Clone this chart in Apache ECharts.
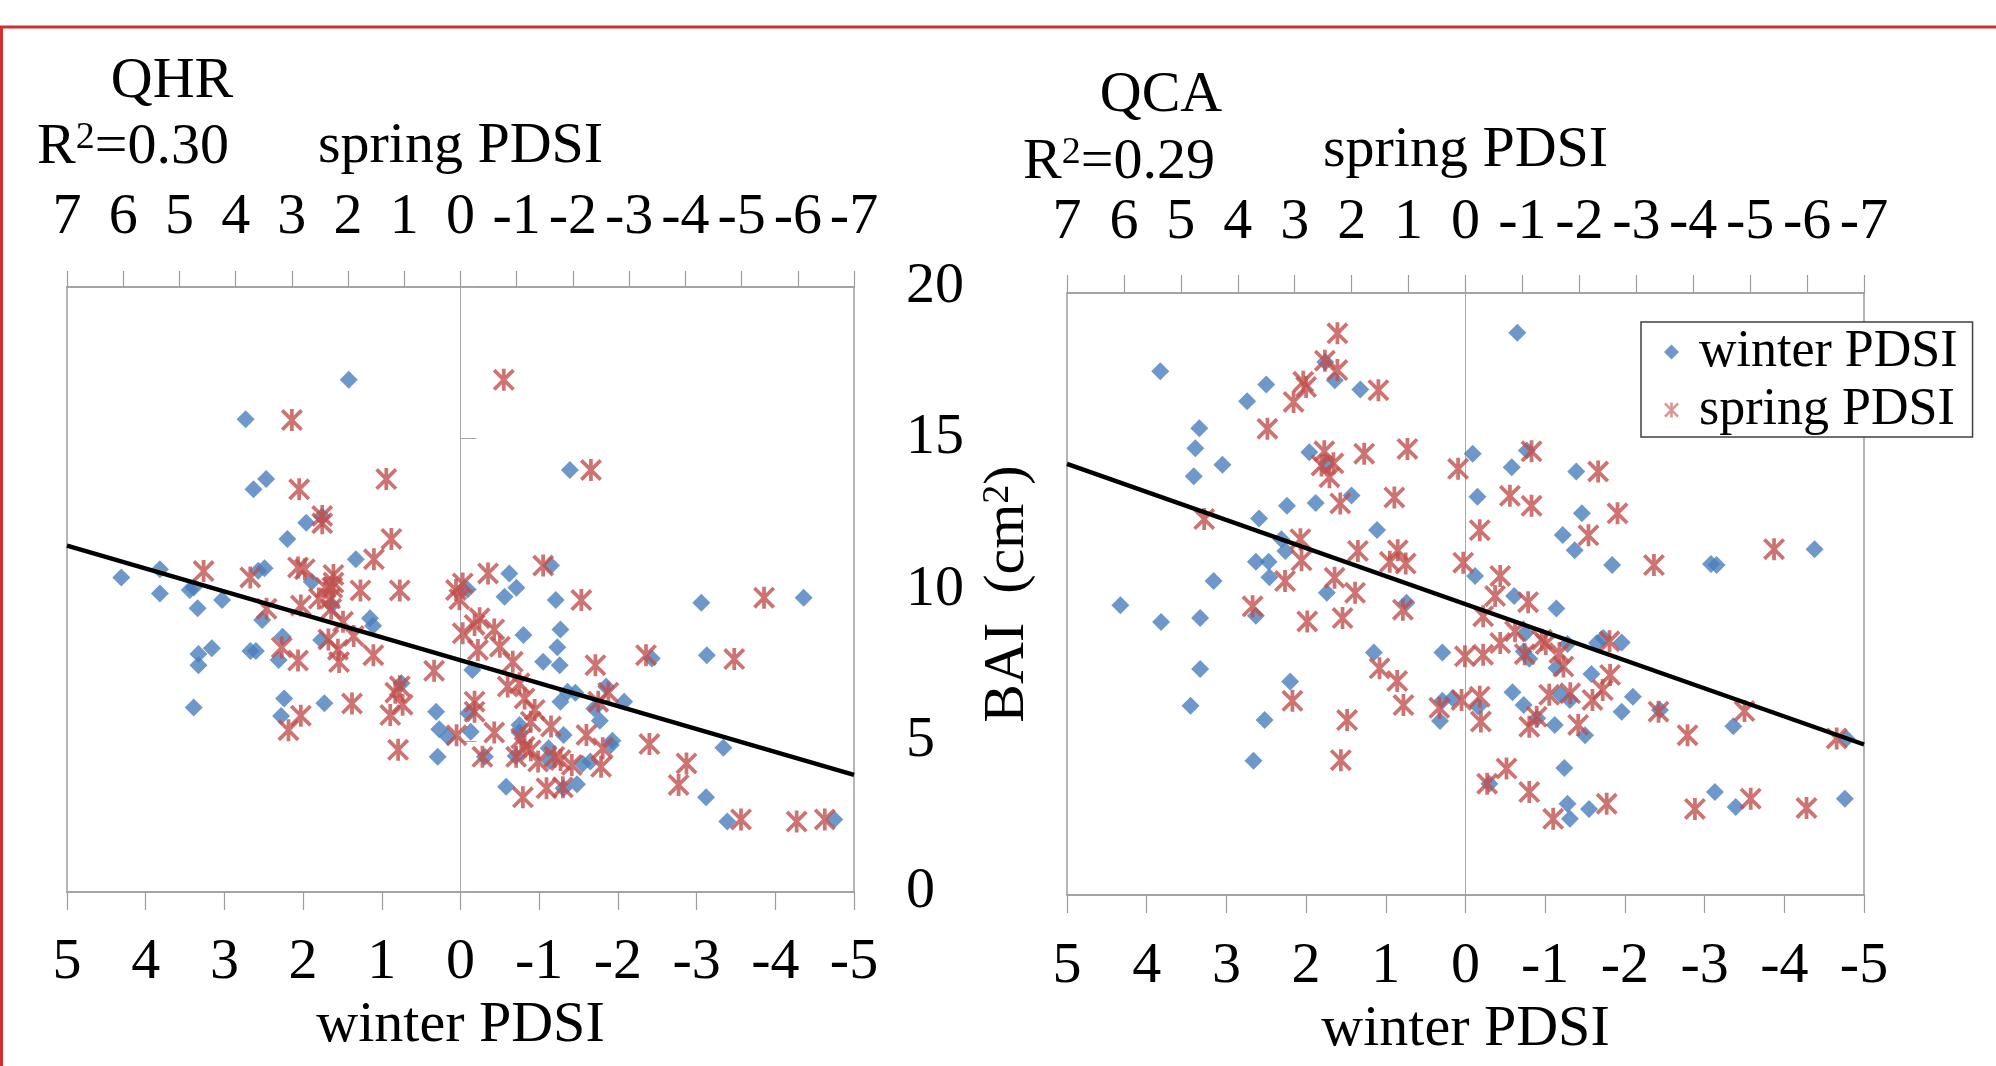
<!DOCTYPE html>
<html><head><meta charset="utf-8">
<script src="https://cdn.jsdelivr.net/npm/echarts@6/dist/echarts.min.js"></script>
<style>html,body{margin:0;padding:0;background:#fff}#c{width:1996px;height:1066px}</style>
</head><body><div id="c"></div>
<script>
// ---------- DATA ----------
const winterRange = [-5, 5];
const springRange = [-7, 7];
const baiRange = [0, 20];
const baiInterval = 5;

// QHR panel
const qhrWinterPDSI = [1.42,2.73,2.47,2.63,1.96,1.76,2.20,1.33,3.82,4.31,3.82,3.44,3.39,3.34,3.03,2.57,2.49,1.89,2.52,1.64,1.15,1.11,2.26,1.77,3.33,3.33,3.16,2.67,2.60,2.31,3.39,2.24,2.28,1.73,0.75,0.31,0.27,0.16,0.29,
 -1.39,-0.62,-0.71,-0.56,-1.15,-0.09,-1.21,-0.80,-1.27,-1.23,-1.05,-1.26,-0.15,-3.06,-4.36,-3.13,-2.43,-1.36,-1.46,-1.27,-1.85,-2.08,-1.70,-1.77,-0.10,-0.13,-0.75,-0.75,-1.31,-1.93,-1.91,-1.12,-1.13,-0.31,-0.70,-1.55,-1.65,-0.58,-1.48,-1.31,-3.34,-3.12,-3.39,-4.75];
const qhrWinterBAI = [16.93,15.63,13.65,13.31,12.21,12.41,11.67,11.00,10.67,10.40,9.87,9.98,10.07,9.38,9.65,10.62,10.70,10.26,8.99,9.49,9.05,8.80,8.44,8.33,7.87,7.50,8.06,7.97,7.97,7.67,6.10,6.40,5.82,6.24,6.90,5.96,5.38,5.13,4.47,
 13.95,10.53,10.06,9.76,10.79,10.00,9.65,8.50,8.68,8.09,7.61,7.50,7.34,9.56,9.73,7.83,7.72,6.62,6.59,6.29,6.79,6.29,6.07,5.66,5.91,5.30,5.52,5.28,5.19,5.00,4.86,4.75,4.34,4.47,4.50,4.24,4.31,3.48,3.56,3.43,4.77,3.13,2.33,2.40];
const qhrSpringPDSI = [3.00,2.87,1.32,2.46,2.46,1.23,1.54,4.57,3.74,2.89,2.77,2.26,2.26,2.40,2.28,1.78,1.08,2.52,2.32,2.84,3.45,2.30,2.09,1.90,3.18,2.35,2.89,2.16,1.55,2.18,0.47,1.08,1.16,1.03,1.25,1.93,2.84,3.06,1.11,0.07,0.08,0.02,-0.04,-0.04,
 -0.77,-2.32,-1.47,-0.49,-2.15,-5.40,-0.34,-0.25,-0.60,-0.31,-0.70,-0.93,-2.40,-3.30,-4.87,-0.84,-1.05,-1.14,-1.32,-0.25,-0.25,-2.45,-2.63,-0.60,-1.25,-1.61,-2.24,-1.08,-1.14,-0.39,-0.99,-1.25,-1.38,-1.67,-1.78,-1.98,-2.50,-2.53,-3.36,-4.02,-3.88,-1.11,-1.53,-1.82,-4.99,-5.98,-6.48];
const qhrSpringBAI = [15.60,13.31,13.65,12.43,12.19,11.67,11.00,10.61,10.40,10.73,10.67,10.48,10.23,10.06,10.06,9.97,9.97,9.70,9.70,9.47,9.36,9.36,8.93,8.46,8.08,8.35,7.65,7.60,7.83,8.01,7.31,6.80,6.59,6.19,5.85,6.23,5.83,5.35,4.70,5.18,9.98,9.68,10.20,8.55,
 16.93,13.95,10.79,10.53,9.65,9.73,9.05,8.83,8.68,8.00,8.11,7.61,7.50,7.83,7.70,6.79,6.90,6.40,6.02,6.29,5.96,6.29,6.59,5.27,5.63,5.47,5.19,5.08,4.80,4.47,4.47,4.69,4.31,4.47,4.36,4.20,4.14,4.75,4.89,4.25,3.54,3.13,3.43,3.46,2.40,2.33,2.40];

// QCA panel
const qcaWinterPDSI = [3.83,2.50,2.74,1.76,1.64,1.32,3.34,3.39,3.05,3.41,1.96,1.74,1.43,2.24,1.88,2.59,1.11,2.31,2.26,2.63,2.47,2.46,3.16,1.74,4.33,3.82,3.33,2.63,0.74,3.33,2.20,3.45,2.52,2.66,1.15,0.29,0.29,0.16,0.32,
 -0.65,-0.09,-0.58,-0.77,-1.39,-0.15,-1.46,-1.22,-1.37,-1.84,-3.08,-3.15,-4.38,-0.12,-0.61,-1.14,-0.75,-0.73,-0.80,-1.28,-1.65,-1.73,-1.96,-1.14,-1.58,-0.59,-0.73,-0.16,-1.19,-1.31,-2.10,-1.96,-2.44,-0.90,-1.12,-1.50,-3.36,-4.78,-1.24,-0.30,-1.28,-1.31,-1.55,-3.13,-3.39,-4.76];
const qcaWinterBAI = [17.40,16.96,16.40,17.71,17.10,16.79,15.51,14.84,14.29,13.91,14.71,14.32,13.27,12.93,13.02,12.51,12.13,11.82,11.43,11.07,11.07,10.56,10.43,10.04,9.63,9.07,9.20,9.28,9.71,7.51,7.09,6.29,5.81,4.46,8.06,8.06,6.45,6.54,5.78,
 18.68,14.66,14.21,14.77,14.07,13.23,12.68,11.96,11.45,10.96,11.00,10.96,11.49,10.60,9.93,9.52,8.70,8.09,7.85,8.34,8.37,8.54,8.39,7.54,7.34,6.74,6.31,6.26,6.67,6.48,6.59,6.09,6.15,5.87,5.65,5.31,5.61,5.20,4.22,3.70,3.03,2.53,2.86,3.42,2.92,3.20];
const qcaSpringPDSI = [2.25,2.47,2.25,2.85,2.80,3.02,1.53,3.48,2.48,1.78,1.02,2.53,2.32,2.39,0.13,2.20,1.25,4.59,2.90,2.88,1.89,1.19,1.33,1.05,3.17,2.30,1.94,0.04,3.74,1.10,2.78,2.16,1.51,1.20,1.09,0.46,0.07,3.04,2.08,2.19,0.01,
 -1.16,-2.33,-0.78,-1.16,-2.67,-0.25,-2.16,-5.42,-3.31,-0.61,-0.52,-1.10,-0.31,-0.87,-0.61,-0.31,-1.04,-1.34,-1.41,-1.65,-1.72,-2.53,-2.54,-2.41,-0.25,-0.27,-1.12,-1.25,-1.47,-1.84,-2.23,-1.98,-3.39,-3.90,-4.90,-6.52,-0.72,-0.38,-1.12,-1.54,-2.48,-4.03,-5.01,-5.99];
const qcaSpringBAI = [18.66,17.75,17.44,17.05,16.88,16.38,16.77,15.49,14.74,14.66,14.82,14.27,14.34,13.88,14.16,13.01,13.21,12.49,11.82,11.12,11.43,11.45,11.07,11.01,10.43,10.54,10.04,11.04,9.59,9.48,9.09,9.20,7.53,7.11,6.31,6.22,6.48,6.45,5.81,4.48,7.93,
 14.74,14.07,13.26,12.93,12.68,12.12,11.95,11.49,10.96,10.60,9.93,9.73,9.26,8.76,8.37,7.98,8.00,8.48,8.34,8.04,7.59,8.43,7.31,6.81,6.59,5.76,5.59,5.92,6.65,6.70,6.48,5.65,6.09,5.31,6.11,5.20,4.20,3.70,3.42,2.53,3.03,2.86,3.20,2.89];

// trend lines (end points on the winter axis)
const trendWinterPDSI = [5, -5];
const qhrTrendBAI = [11.45, 3.87];
const qcaTrendBAI = [14.32, 5.00];

// ---------- CHART ----------
const FONT = 'Liberation Serif';
const BLUE = '#4a7ebb', RED = '#c0504d', AXIS = '#9d9d9d';
const STAR = 'path://M0,2.4L2.4,0L20,17.6L17.6,20ZM17.6,0L20,2.4L2.4,20L0,17.6ZM8.3,0L11.7,0L11.7,20L8.3,20Z';
const zip = (xs, ys) => xs.map((x, i) => [x, ys[i]]);
const txt = {fontSize: 58, fontFamily: FONT, color: '#000', lineHeight: 58};
const supRich = {sup: {fontSize: 38, fontFamily: FONT, color: '#000', lineHeight: 38, verticalAlign: 'top'},
                 n: {fontSize: 58, fontFamily: FONT, color: '#000', lineHeight: 58}};

function xAx(grid, pos, range, margin, tickLen, name, nameGap) {
  return {
    gridIndex: grid, type: 'value', position: pos, min: range[0], max: range[1], interval: 1, inverse: true,
    axisLine: {show: true, onZero: false, lineStyle: {color: AXIS, width: 1.5}},
    axisTick: {show: true, length: tickLen, lineStyle: {color: AXIS, width: 1.2}},
    axisLabel: Object.assign({margin: margin, hideOverlap: false}, txt),
    splitLine: {show: false},
    name: name, nameLocation: 'middle', nameGap: nameGap, nameTextStyle: txt
  };
}

const chart = echarts.init(document.getElementById('c'), null, {renderer: 'canvas'});
chart.setOption({
  animation: false,
  backgroundColor: '#fff',
  textStyle: {fontFamily: FONT},
  grid: [
    {left: 67, top: 287, width: 787, height: 605, show: true, borderColor: AXIS, borderWidth: 1.5, backgroundColor: 'rgba(0,0,0,0)', outerBoundsMode: 'none', containLabel: false},
    {left: 1067, top: 293, width: 797, height: 602, show: true, borderColor: AXIS, borderWidth: 1.5, backgroundColor: 'rgba(0,0,0,0)', outerBoundsMode: 'none', containLabel: false}
  ],
  xAxis: [
    xAx(0, 'bottom', winterRange, 42, 18, 'winter PDSI', 97),
    xAx(0, 'top', springRange, 40, 16, 'spring PDSI', 111),
    xAx(1, 'bottom', winterRange, 43, 18, 'winter PDSI', 103),
    xAx(1, 'top', springRange, 41, 18, 'spring PDSI', 113)
  ],
  yAxis: [
    {gridIndex: 0, type: 'value', min: baiRange[0], max: baiRange[1], interval: baiInterval, position: 'left',
     axisLine: {show: true, onZero: true, onZeroAxisIndex: 0, lineStyle: {color: '#a8a8a8', width: 1}},
     axisTick: {show: true, inside: true, length: 16, lineStyle: {color: '#a8a8a8', width: 1}},
     axisLabel: {show: false}, splitLine: {show: false}},
    {gridIndex: 0, type: 'value', min: baiRange[0], max: baiRange[1], interval: baiInterval, position: 'right',
     axisLine: {show: false, onZero: false}, axisTick: {show: false},
     axisLabel: Object.assign({margin: 52}, txt), splitLine: {show: false}},
    {gridIndex: 1, type: 'value', min: baiRange[0], max: baiRange[1], interval: baiInterval, position: 'left',
     axisLine: {show: true, onZero: true, onZeroAxisIndex: 2, lineStyle: {color: '#a8a8a8', width: 1}},
     axisTick: {show: false}, axisLabel: {show: false}, splitLine: {show: false}},
    {gridIndex: 1, type: 'value', min: baiRange[0], max: baiRange[1], interval: baiInterval, position: 'left',
     axisLine: {show: false, onZero: false}, axisTick: {show: false}, axisLabel: {show: false}, splitLine: {show: false},
     name: '{n|BAI  (cm}{sup|2}{n|)}', nameLocation: 'middle', nameRotate: 90, nameGap: 30,
     nameTextStyle: Object.assign({rich: supRich}, txt)}
  ],
  legend: {
    data: [{name: 'winter PDSI'}, {name: 'spring PDSI', itemStyle: {opacity: 0.6}}],
    orient: 'vertical', left: 1641, top: 322, padding: [3, 15, 0, 23], itemGap: 4,
    itemWidth: 15, itemHeight: 15, backgroundColor: '#fff', borderColor: '#404040', borderWidth: 1.5,
    textStyle: {fontSize: 52, fontFamily: FONT, color: '#000', lineHeight: 54, padding: [0, 0, 0, 15]}, selectedMode: false
  },
  series: [
    {type: 'scatter', name: 'winter PDSI', xAxisIndex: 0, yAxisIndex: 0, data: zip(qhrWinterPDSI, qhrWinterBAI),
     symbol: 'diamond', symbolSize: 18, itemStyle: {color: BLUE}, z: 2},
    {type: 'scatter', name: 'spring PDSI', xAxisIndex: 1, yAxisIndex: 0, data: zip(qhrSpringPDSI, qhrSpringBAI),
     symbol: STAR, symbolSize: 22, itemStyle: {color: RED}, z: 3},
    {type: 'line', name: 'QHR trend', xAxisIndex: 0, yAxisIndex: 0, data: zip(trendWinterPDSI, qhrTrendBAI),
     symbol: 'none', showSymbol: false, lineStyle: {color: '#000', width: 4.5}, z: 4, silent: true},
    {type: 'scatter', name: 'winter PDSI', xAxisIndex: 2, yAxisIndex: 2, data: zip(qcaWinterPDSI, qcaWinterBAI),
     symbol: 'diamond', symbolSize: 18, itemStyle: {color: BLUE}, z: 2},
    {type: 'scatter', name: 'spring PDSI', xAxisIndex: 3, yAxisIndex: 2, data: zip(qcaSpringPDSI, qcaSpringBAI),
     symbol: STAR, symbolSize: 22, itemStyle: {color: RED}, z: 3},
    {type: 'line', name: 'QCA trend', xAxisIndex: 2, yAxisIndex: 2, data: zip(trendWinterPDSI, qcaTrendBAI),
     symbol: 'none', showSymbol: false, lineStyle: {color: '#000', width: 4.5}, z: 4, silent: true}
  ],
  graphic: [
    {type: 'rect', silent: true, z: 0, shape: {x: 1.5, y: 27, width: 2100, height: 1200}, style: {fill: 'none', stroke: '#d03030', lineWidth: 3}},
    {type: 'text', x: 172, y: 82, style: {text: 'QHR', fontSize: 58, fontFamily: FONT, fill: '#000', align: 'center', verticalAlign: 'middle'}},
    {type: 'text', x: 37, y: 148, style: {text: '{n|R}{sup|2}{n|=0.30}', rich: supRich, fontSize: 58, fontFamily: FONT, fill: '#000', align: 'left', verticalAlign: 'middle'}},
    {type: 'text', x: 1161, y: 96, style: {text: 'QCA', fontSize: 58, fontFamily: FONT, fill: '#000', align: 'center', verticalAlign: 'middle'}},
    {type: 'text', x: 1023, y: 163, style: {text: '{n|R}{sup|2}{n|=0.29}', rich: supRich, fontSize: 58, fontFamily: FONT, fill: '#000', align: 'left', verticalAlign: 'middle'}}
  ]
});
</script></body></html>
